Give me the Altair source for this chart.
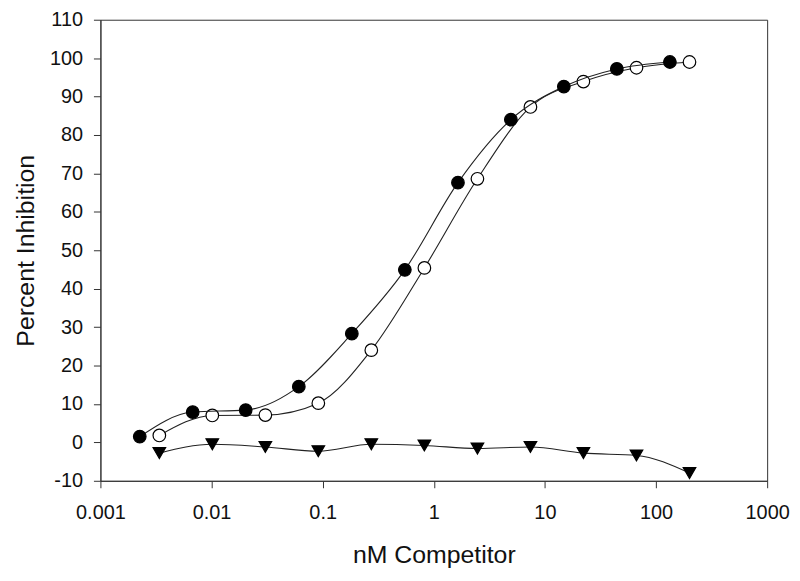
import altair as alt
import pandas as pd

# Filled circles
x_filled = [0.00226, 0.00677, 0.0203, 0.061, 0.183, 0.549, 1.65, 4.94, 14.8, 44.4, 133.3]
y_filled = [1.5, 7.9, 8.4, 14.5, 28.3, 44.9, 67.6, 84.0, 92.6, 97.2, 99.0]

# Open circles
x_open = [0.00339, 0.01016, 0.0305, 0.0914, 0.274, 0.823, 2.47, 7.41, 22.2, 66.7, 200.0]
y_open = [1.8, 7.0, 7.1, 10.2, 24.0, 45.4, 68.6, 87.3, 93.9, 97.5, 99.0]

# Triangles (down)
x_tri = [0.00339, 0.01016, 0.0305, 0.0914, 0.274, 0.823, 2.47, 7.41, 22.2, 66.7, 200.0]
y_tri = [-2.8, -0.5, -1.2, -2.3, -0.5, -0.8, -1.6, -1.2, -2.8, -3.4, -8.0]

x_ticks = [0.001, 0.01, 0.1, 1, 10, 100, 1000]
y_ticks = list(range(-10, 111, 10))

df_f = pd.DataFrame({"x": x_filled, "y": y_filled})
df_o = pd.DataFrame({"x": x_open, "y": y_open})
df_t = pd.DataFrame({"x": x_tri, "y": y_tri})

FONT = "Liberation Sans"
AX = "#333333"

xenc = alt.X("x:Q", scale=alt.Scale(type="log", domain=[0.001, 1000]),
             axis=alt.Axis(values=x_ticks, labelExpr="'' + datum.value", title="nM Competitor",
                           grid=False, tickSize=7, labelPadding=15, titlePadding=20,
                           labelFontSize=20, titleFontSize=25, titleFontWeight="normal",
                           labelFont=FONT, titleFont=FONT, domainColor=AX, tickColor=AX,
                           labelColor="#111111", titleColor="#111111", labelFlush=False))
yenc = alt.Y("y:Q", scale=alt.Scale(domain=[-10, 110], nice=False, zero=False),
             axis=alt.Axis(values=y_ticks, labelExpr="'' + datum.value", title="Percent Inhibition",
                           grid=False, tickSize=7, labelPadding=11, titlePadding=11,
                           labelFontSize=20, titleFontSize=25, titleFontWeight="normal",
                           labelFont=FONT, titleFont=FONT, domainColor=AX, tickColor=AX,
                           labelColor="#111111", titleColor="#111111"))

def series(df, shape, fill):
    line = alt.Chart(df).mark_line(color="#222222", strokeWidth=1.1, interpolate="monotone").encode(x=xenc, y=yenc)
    pts = alt.Chart(df).mark_point(shape=shape, size=160, filled=True, fill=fill,
                                   stroke="#000000", strokeWidth=1.2, opacity=1).encode(x=xenc, y=yenc)
    return [line, pts]

layers = series(df_t, "triangle-down", "#000000") + series(df_o, "circle", "#ffffff") + series(df_f, "circle", "#000000")

chart = alt.layer(*layers).properties(
    width=671, height=464,
    autosize=alt.AutoSizeParams(type="none"),
    padding={"left": 93, "top": 10, "right": 25, "bottom": 92},
).configure_view(stroke=AX, strokeWidth=1)

chart.save("out.html", embed_options={"renderer": "svg", "actions": False})
